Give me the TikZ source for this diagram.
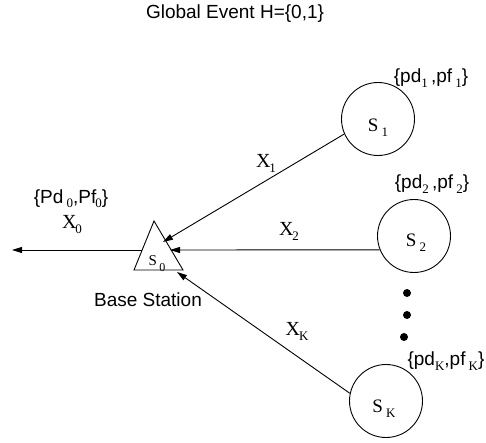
\documentclass[tikz,border=0pt]{standalone}
\usepackage{fontspec}
\setmainfont{Liberation Sans}
\newfontfamily\tms{Liberation Serif}
\usetikzlibrary{arrows.meta}
\newcommand{\lowsub}[1]{\raisebox{-5pt}{\tms\fontsize{13}{13}\selectfont #1}}
\newcommand{\pdsub}[1]{\raisebox{-3.5pt}{\tms\fontsize{13}{13}\selectfont #1}}
\newcommand{\smsub}[1]{\raisebox{-6pt}{\tms\fontsize{12}{12}\selectfont #1}}
\tikzset{
  sensor/.style={draw, circle, line width=0.9pt, minimum size=73pt, inner sep=0pt},
  conn/.style={line width=0.9pt, -{Triangle[length=10pt,width=6pt]}},
  lbl/.style={inner sep=0pt, font=\fontsize{19}{21}\selectfont},
  xl/.style={inner sep=0pt, font=\tms\fontsize{20}{22}\selectfont},
  sl/.style={inner sep=0pt, font=\tms\fontsize{19}{21}\selectfont},
  dotn/.style={fill, circle, minimum size=8pt, inner sep=0pt}
}
\begin{document}
\begin{tikzpicture}[x=1pt, y=-1pt]
\useasboundingbox (0,0) rectangle (486,443);
% title
\node[lbl] (title) at (235,14) {Global Event H=\{0,1\}};
% sensors
\node[sensor] (s1) at (378,119) {};
\node[sensor] (s2) at (414,236) {};
\node[sensor] (sK) at (386,401) {};
\node[sl] (l1) at (378,128) {S\,\lowsub{1}};
\node[sl] (l2) at (416,243) {S\,\lowsub{2}};
\node[sl] (lK) at (384,409) {S\,\lowsub{K}};
% triangle base station
\coordinate (ta) at (154,221);
\coordinate (tl) at (134,270);
\coordinate (tr) at (183,270);
\draw[line width=0.9pt, line join=miter] (ta) -- (tl) -- (tr) -- cycle;
\node[inner sep=0pt, font=\tms\fontsize{15}{17}\selectfont] (l0) at (157,264) {S\,\smsub{0}};
% arrow endpoints
\coordinate (in1) at (163,242);
\coordinate (in2) at (170,250);
\coordinate (inK) at (177,272);
\coordinate (out0) at (142,250);
\coordinate (end0) at (12,250);
% connectors
\draw[conn] (s1.204) -- (in1);
\draw[conn] (s2.202.5) -- (in2);
\draw[conn] (sK.168) -- (inK);
\draw[conn] (out0) -- (end0);
% dots
\node[dotn] (d1) at (407,293) {};
\node[dotn] (d2) at (407,315) {};
\node[dotn] (d3) at (404,337) {};
% labels
\node[lbl] (base) at (148,300) {Base Station};
\node[lbl] (pd0) at (71,199) {\{Pd\,\pdsub{0},Pf\kern-1pt\pdsub{0}\}};
\node[xl] (x0) at (72,225) {X\kern-1pt\lowsub{0}};
\node[xl] (x1) at (266,163) {X\kern-1pt\lowsub{1}};
\node[xl] (x2) at (289,231) {X\kern-1pt\lowsub{2}};
\node[xl] (xK) at (297,331) {X\kern-1pt\lowsub{K}};
\node[lbl] (pd1) at (431,78) {\{pd\lowsub{1}\,,pf\,\lowsub{1}\}};
\node[lbl] (pd2) at (432,184) {\{pd\lowsub{2}\,,pf\,\lowsub{2}\}};
\node[lbl] (pdK) at (446,361) {\{pd\lowsub{K},pf\,\lowsub{K}\}};
\end{tikzpicture}
\end{document}
